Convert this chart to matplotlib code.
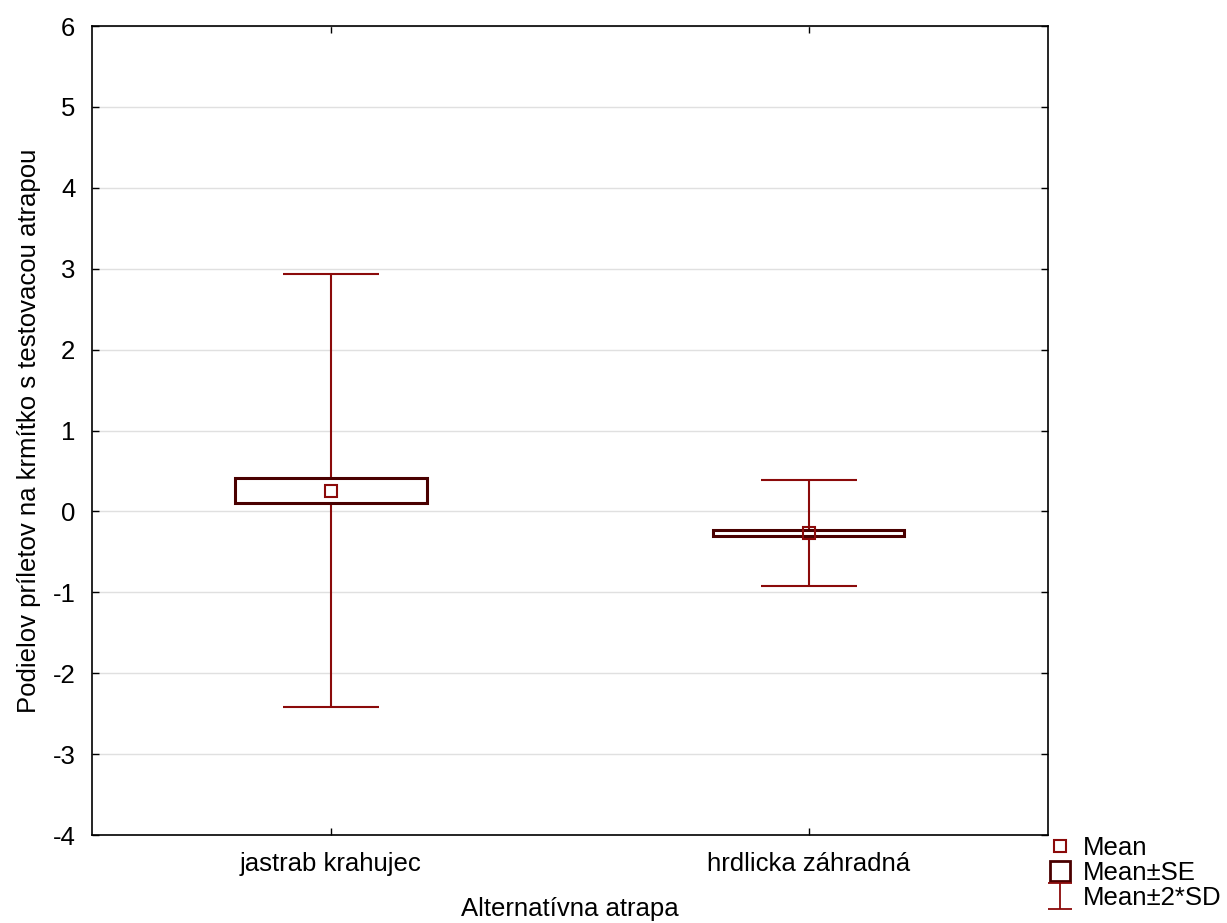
import numpy as np
import matplotlib
matplotlib.use("Agg")
import matplotlib.pyplot as plt
from matplotlib.lines import Line2D
from matplotlib.path import Path

plt.rcParams['font.family'] = ['Liberation Sans', 'DejaVu Sans']
plt.rcParams['axes.unicode_minus'] = False

# Data
groups = ['jastrab krahujec', 'hrdlicka záhradná']
means = np.array([0.258, -0.266])
se = np.array([0.155, 0.037])
sd = np.array([1.338, 0.328])

whisker_col = '#8B0A0A'
box_col = '#4A0000'
fs = 18.5

fig = plt.figure(figsize=(12.27, 9.23), dpi=100)
ax = fig.add_axes([0.075, 0.0953, 0.779, 0.8765])

x = np.arange(len(groups))

# whiskers (mean +- 2*SD)
ax.vlines(x, means - 2 * sd, means + 2 * sd, color=whisker_col, lw=1.5, zorder=2)
ax.hlines(means + 2 * sd, x - 0.1, x + 0.1, color=whisker_col, lw=1.5, zorder=2)
ax.hlines(means - 2 * sd, x - 0.1, x + 0.1, color=whisker_col, lw=1.5, zorder=2)

# boxes (mean +- SE)
ax.bar(x, 2 * se, bottom=means - se, width=0.4, facecolor='white',
       edgecolor=box_col, linewidth=2.2, zorder=3)

# mean markers
ax.plot(x, means, ls='none', marker='s', ms=9, mfc='none', mec=whisker_col,
        mew=1.5, zorder=4)

ax.set_xlim(-0.5, 1.5)
ax.set_ylim(-4, 6)
ax.set_yticks(np.arange(-4, 7, 1))
ax.set_xticks(x)
ax.set_xticklabels(groups)
ax.tick_params(direction='in', top=True, right=True, labelsize=fs, length=5,
               width=1)
ax.tick_params(axis='y', pad=12)
ax.tick_params(axis='x', pad=12)
ax.yaxis.grid(True, color='#E0E0E0', lw=1)
ax.set_axisbelow(True)
for s in ax.spines.values():
    s.set_linewidth(1.2)

ax.set_xlabel('Alternatívna atrapa', fontsize=fs, labelpad=15)
ax.set_ylabel('Podielov príletov na krmítko s testovacou atrapou', fontsize=fs,
              labelpad=8)

# legend with custom glyphs
ibeam = Path([(-0.9, -1), (0.9, -1), (0, -1), (0, 1), (-0.9, 1), (0.9, 1)],
             [Path.MOVETO, Path.LINETO, Path.MOVETO, Path.LINETO,
              Path.MOVETO, Path.LINETO])
handles = [
    Line2D([], [], ls='none', marker='s', ms=9, mfc='white', mec=whisker_col, mew=1.5),
    Line2D([], [], ls='none', marker='s', ms=15, mfc='white', mec=box_col, mew=2),
    Line2D([], [], ls='none', marker=ibeam, ms=19, mec=whisker_col, mew=1.3),
]
fig.legend(handles, ['Mean', 'Mean±SE', 'Mean±2*SD'], loc='lower left',
           bbox_to_anchor=(0.843, 0.0), frameon=False, fontsize=fs,
           handlelength=1.0, handletextpad=0.4, labelspacing=0.05,
           borderaxespad=0.1)

fig.savefig('out.png', dpi=100)
